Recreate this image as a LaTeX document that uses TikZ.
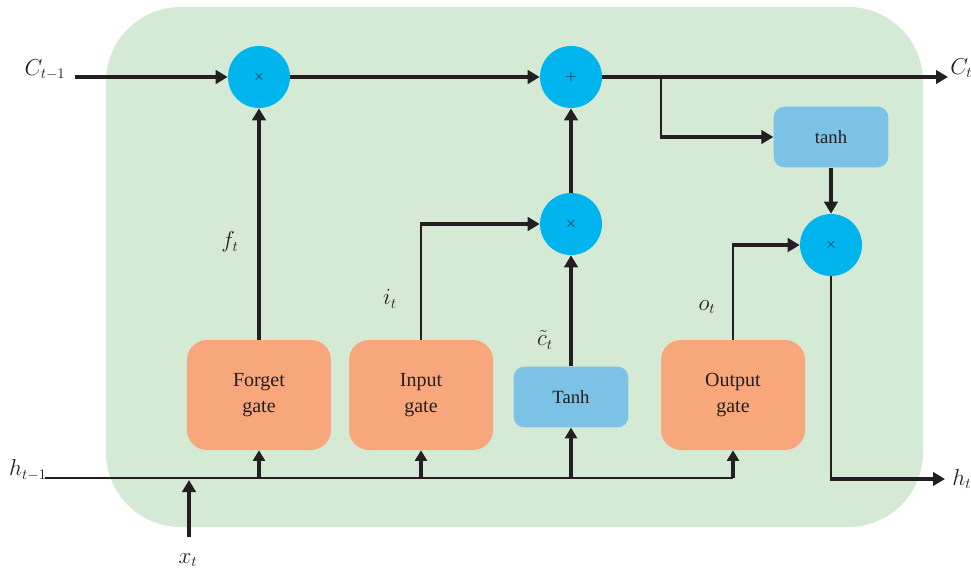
\documentclass[tikz,border=0pt]{standalone}
\usepackage{fontspec}
\setmainfont{Liberation Serif}
\usetikzlibrary{arrows.meta}
\definecolor{bgg}{HTML}{D5EAD5}
\definecolor{opblue}{HTML}{00B4EE}
\definecolor{gateor}{HTML}{F7A77B}
\definecolor{actblue}{HTML}{7CC1E6}
\definecolor{ink}{HTML}{231F20}
\begin{document}
\begin{tikzpicture}[x=0.75pt,y=-0.75pt,
 op/.style={circle,fill=opblue,minimum size=46.5pt,inner sep=0pt,font=\fontsize{11}{11}\selectfont,text=ink},
 gatebox/.style={rounded corners=15pt,fill=gateor,minimum width=108pt,minimum height=82.5pt,align=center,font=\fontsize{15}{19}\selectfont,text=ink},
 actbox/.style={rounded corners=8pt,fill=actblue,minimum width=86pt,minimum height=45.5pt,font=\fontsize{14}{16}\selectfont,text=ink},
 thickline/.style={draw=ink,line width=3pt},
 thinline/.style={draw=ink,line width=1.8pt},
 bigtip/.style={-{Triangle[length=9pt,width=10pt]}},
 smalltip/.style={-{Triangle[length=8pt,width=9pt]}},
 lab/.style={font=\fontsize{16}{16}\selectfont,text=ink,inner sep=0pt}
]
\useasboundingbox (0,0) rectangle (971,575);
\fill[bgg,rounded corners=56pt] (106,7) rectangle (923,527);

% operators
\node[op] (m1) at (259,77) {$\times$};
\node[op] (pl) at (571,77) {$+$};
\node[op] (m2) at (571,224) {$\times$};
\node[op] (m3) at (831,245) {$\times$};

% boxes
\node[gatebox] (fg) at (259,395) {Forget\\gate};
\node[gatebox] (ig) at (421,395) {Input\\gate};
\node[gatebox] (og) at (733,395) {Output\\gate};
\node[actbox] (tc) at (571,397) {Tanh};
\node[actbox] (th) at (831,137) {tanh};

% coordinates
\coordinate (cin) at (75,77);
\coordinate (cout) at (948,77);
\coordinate (br) at (661,77);
\coordinate (hin) at (45,478);
\coordinate (hout) at (945,479);
\coordinate (xin) at (189,537);
\coordinate (xend) at (189,480);

% cell state line
\draw[thickline,bigtip] (cin) -- (m1.west);
\draw[thickline,bigtip] (m1.east) -- (pl.west);
\draw[thickline,bigtip] (pl.east) -- (cout);
\draw[thinline] (br) -- (br |- th.west);
\draw[thickline,bigtip] ([xshift=-0.8pt]br |- th.west) -- (th.west);
\draw[thickline,bigtip] (th.south) -- (m3.north);
\draw[thinline] (m3.south) -- (m3.south |- hout);
\draw[thickline,bigtip] ([xshift=-0.8pt]m3.south |- hout) -- (hout);

% gates up
\draw[thickline,bigtip] (fg.north) -- (m1.south);
\draw[thinline] (ig.north) -- (ig.north |- m2.west);
\draw[thickline,bigtip] ([xshift=-0.8pt]ig.north |- m2.west) -- (m2.west);
\draw[thickline,bigtip] (tc.north) -- (m2.south);
\draw[thickline,bigtip] (m2.north) -- (pl.south);
\draw[thinline] (og.north) -- (og.north |- m3.west);
\draw[thickline,bigtip] ([xshift=-0.8pt]og.north |- m3.west) -- (m3.west);

% hidden input line
\draw[thinline] (hin) -- (og.south |- hin);
\draw[thickline,smalltip] (fg.south |- hin) -- (fg.south);
\draw[thickline,smalltip] (ig.south |- hin) -- (ig.south);
\draw[thickline,smalltip] (tc.south |- hin) -- (tc.south);
\draw[thickline,smalltip] (og.south |- hin) -- (og.south);
\draw[thickline,bigtip] (xin) -- (xend);

% labels
\node[lab] (lc0) at (45,70) {$C_{t-1}$};
\node[lab,anchor=west] (lc1) at (950,68) {$C_t$};
\node[lab] (lh0) at (28,470) {$h_{t-1}$};
\node[lab,anchor=west] (lh1) at (952,479) {$h_t$};
\node[lab] (lx) at (188,560) {$x_t$};
\node[lab] (lf) at (230,242) {$f_t$};
\node[lab] (li) at (390,299) {$i_t$};
\node[lab] (lct) at (545,340) {$\tilde{c}_t$};
\node[lab] (lo) at (707,307) {$o_t$};
\end{tikzpicture}
\end{document}
